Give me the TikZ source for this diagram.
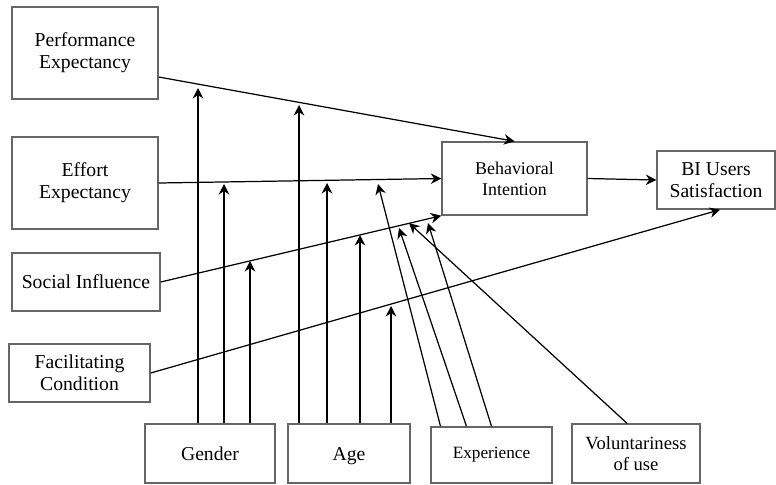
\documentclass[tikz,border=0pt]{standalone}
\usepackage{fontspec}
\setmainfont{Liberation Serif}
\usepackage{tikz}
\usetikzlibrary{arrows.meta, positioning, calc}
\tikzstyle{factor} = [rectangle, draw=black!60, line width=0.8pt, align=center, inner sep=0pt, font=\fontsize{11.2}{12.5}\selectfont]
\tikzstyle{small} = [font=\fontsize{10.2}{12}\selectfont]
\tikzstyle{arrow} = [draw, -{Stealth[length=2.1mm, width=2.1mm]}, line width=0.7pt]

\begin{document}
\begin{tikzpicture}[x=0.02cm, y=-0.02cm]
    \useasboundingbox (0,0) rectangle (776,484);

    % Constructs
    \node (pe) [factor, minimum width=2.92cm, minimum height=1.84cm] at (85,53) {Performance\\Expectancy};
    \node (ee) [factor, minimum width=2.92cm, minimum height=1.84cm] at (85,183) {Effort\\Expectancy};
    \node (si) [factor, minimum width=2.96cm, minimum height=1.16cm] at (86,282) {Social Influence};
    \node (fc) [factor, minimum width=2.82cm, minimum height=1.16cm] at (79.5,373) {Facilitating\\Condition};
    \node (bi) [factor, small, minimum width=2.9cm, minimum height=1.46cm] at (514.5,178.5) {Behavioral\\Intention};
    \node (bius) [factor, minimum width=2.36cm, minimum height=1.16cm] at (716,180) {BI Users\\Satisfaction};

    % Moderators
    \node (gen) [factor, minimum width=2.6cm, minimum height=1.18cm] at (210,453.5) {Gender};
    \node (age) [factor, text depth=0pt, minimum width=2.44cm, minimum height=1.18cm] at (349,453.5) {Age};
    \node (exp) [factor, font=\fontsize{9.8}{12}\selectfont, minimum width=2.42cm, minimum height=1.12cm] at (491.5,455) {Experience};
    \node (vol) [factor, font=\fontsize{10.6}{12}\selectfont, minimum width=2.56cm, minimum height=1.18cm] at (636,453.5) {Voluntariness\\of use};

    \draw [arrow] ($(pe.east)+(0,24)$) -- (bi.north);
    \draw [arrow] (ee.east) -- (bi.west);
    \draw [arrow] (si.east) -- (bi.south west);
    \draw [arrow] (fc.east) -- ($(bius.south)+(4,0)$);
    \draw [arrow] (bi.east) -- (bius.west);

    % Arrow tips on the paths
    \coordinate (g1) at (198,88);
    \coordinate (g2) at (224,184);
    \coordinate (g3) at (250,261);
    \coordinate (a1) at (299,105);
    \coordinate (a2) at (327,183);
    \coordinate (a3) at (360,235);
    \coordinate (a4) at (391,306);
    \coordinate (e1) at (378,184);
    \coordinate (e2) at (399,228);
    \coordinate (e3) at (428,223);
    \coordinate (v1) at (409,223);

    \draw [arrow] (gen.north -| g1) -- (g1);
    \draw [arrow] (gen.north -| g2) -- (g2);
    \draw [arrow] (gen.north -| g3) -- (g3);

    \draw [arrow] (age.north -| a1) -- (a1);
    \draw [arrow] (age.north -| a2) -- (a2);
    \draw [arrow] (age.north -| a3) -- (a3);
    \draw [arrow] (age.north -| a4) -- (a4);

    \draw [arrow] ($(exp.north)+(-51,0)$) -- (e1);
    \draw [arrow] ($(exp.north)+(-25,0)$) -- (e2);
    \draw [arrow] (exp.north) -- (e3);
    \draw [arrow] ($(vol.north)+(-9,0)$) -- (v1);
\end{tikzpicture}
\end{document}
